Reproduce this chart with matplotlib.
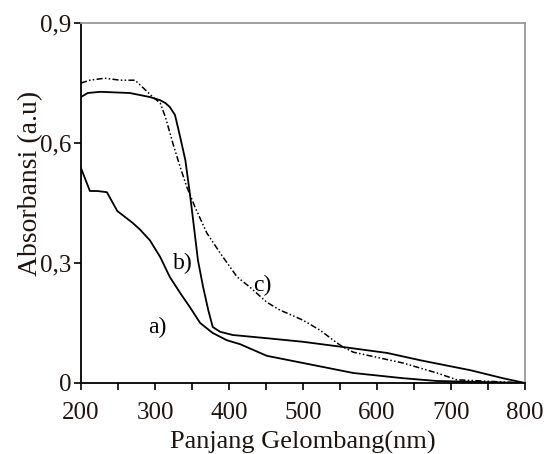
import matplotlib
matplotlib.use('Agg')
import matplotlib.pyplot as plt
from matplotlib.ticker import FuncFormatter, MultipleLocator

plt.rcParams['font.family'] = ['Liberation Serif', 'DejaVu Serif']

# curve a)
wl_a = [200, 212, 222, 235, 249, 270, 280, 293, 307, 320, 334, 347, 361, 378,
        397, 415, 451, 500, 568, 635, 681, 800]
abs_a = [0.537, 0.48, 0.48, 0.477, 0.43, 0.40, 0.383, 0.357, 0.315, 0.265,
         0.225, 0.19, 0.15, 0.125, 0.107, 0.097, 0.068, 0.05, 0.025, 0.012,
         0.005, 0.0]

# curve b)
wl_b = [200, 209, 226, 266, 293, 307, 314, 320, 327, 334, 341, 347, 351, 358,
        365, 372, 378, 388, 405, 451, 500, 554, 614, 658, 726, 770, 800]
abs_b = [0.715, 0.725, 0.728, 0.725, 0.715, 0.707, 0.70, 0.69, 0.67, 0.615,
         0.557, 0.475, 0.415, 0.307, 0.24, 0.182, 0.14, 0.128, 0.12, 0.112,
         0.103, 0.09, 0.075, 0.057, 0.032, 0.012, 0.0]

# curve c)
wl_c = [200, 212, 232, 253, 273, 280, 297, 307, 314, 324, 334, 343, 354, 370,
        388, 411, 428, 451, 469, 478, 500, 523, 546, 554, 568, 635, 681, 708, 800]
abs_c = [0.75, 0.757, 0.762, 0.757, 0.757, 0.745, 0.715, 0.70, 0.665, 0.60,
         0.54, 0.49, 0.44, 0.375, 0.325, 0.265, 0.24, 0.202, 0.182, 0.175,
         0.157, 0.132, 0.10, 0.09, 0.077, 0.05, 0.025, 0.008, 0.0]

labels = ['a)', 'b)', 'c)']
label_pos = [(303, 0.14), (338, 0.30), (445, 0.245)]

txt = '#1e1510'

fig = plt.figure(figsize=(5.53, 4.54), dpi=100)
ax = fig.add_axes([0.1465, 0.1564, 0.8029, 0.7929])

ax.plot(wl_a, abs_a, color='black', lw=1.3)
ax.plot(wl_b, abs_b, color='black', lw=1.3)
ax.plot(wl_c, abs_c, color='black', lw=1.1, dashes=(4, 1.5, 1, 1.5, 1, 1.5))

for lab, (x, y) in zip(labels, label_pos):
    ax.text(x, y, lab, fontsize=17, color='black', ha='center', va='center')

ax.set_xlim(200, 800)
ax.set_ylim(0, 0.9)
ax.xaxis.set_major_locator(MultipleLocator(100))
ax.xaxis.set_minor_locator(MultipleLocator(50))
ax.yaxis.set_major_locator(MultipleLocator(0.3))
ax.yaxis.set_major_formatter(FuncFormatter(
    lambda v, p: '0' if abs(v) < 1e-9 else f'{v:.1f}'.replace('.', ',')))

ax.tick_params(axis='both', which='both', direction='out', length=5, width=1.2,
               labelsize=18, labelcolor=txt, color='black', top=False, right=False)
ax.tick_params(axis='x', pad=9)
ax.tick_params(axis='y', pad=2)

for s in ['left', 'bottom']:
    ax.spines[s].set_color('black')
    ax.spines[s].set_linewidth(1.3)
for s in ['top', 'right']:
    ax.spines[s].set_color('#999999')
    ax.spines[s].set_linewidth(1.3)

ax.set_xlabel('Panjang Gelombang(nm)', fontsize=19, color=txt, labelpad=5)
fig.text(0.055, 0.595, 'Absorbansi (a.u)', rotation=90, fontsize=20, color=txt,
         ha='center', va='center')

fig.savefig('out.png', dpi=100)
